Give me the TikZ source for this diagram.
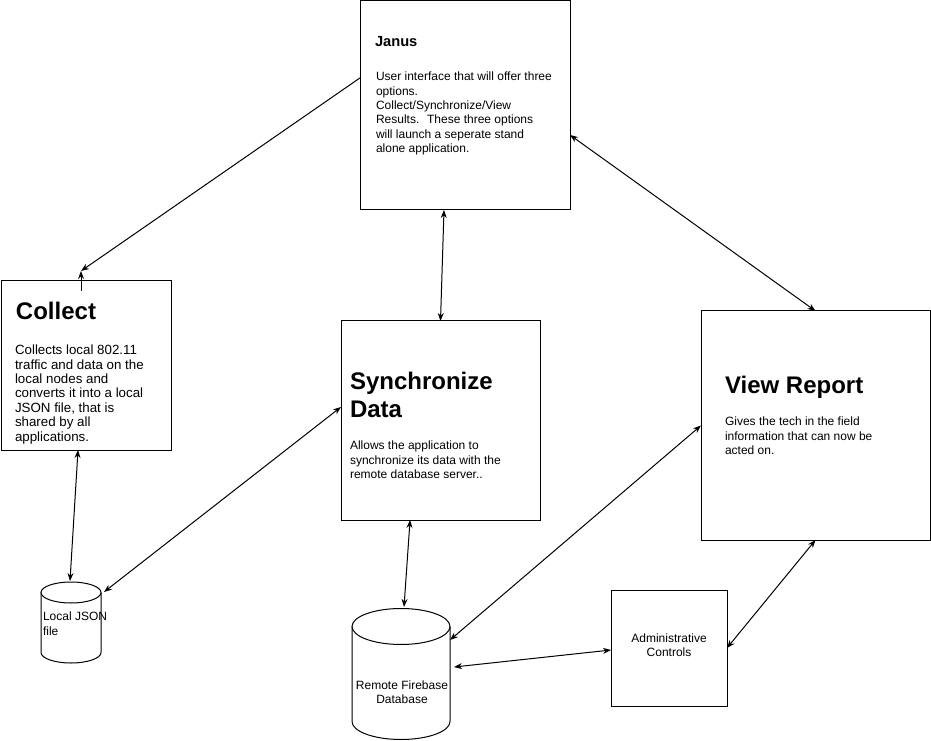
\documentclass[tikz,border=0pt]{standalone}
\usepackage{fontspec}
\setmainfont{Liberation Sans}
\usetikzlibrary{arrows.meta,calc}
\tikzset{
  box/.style={draw, line width=0.75pt, inner sep=0pt, outer sep=0pt},
  body/.style={inner sep=0pt, outer sep=0pt, align=left, font=\fontsize{9}{10.8}\selectfont},
  bodyc/.style={inner sep=0pt, outer sep=0pt, align=center, font=\fontsize{9}{10.8}\selectfont},
  bigtitle/.style={inner sep=0pt, outer sep=0pt, align=left, font=\fontsize{18}{21.3}\selectfont\bfseries},
  conn/.style={line width=0.75pt, {Stealth[length=6pt,width=4.5pt]}-{Stealth[length=6pt,width=4.5pt]}},
  conn1/.style={line width=0.75pt, -{Stealth[length=6pt,width=4.5pt]}},
  hold/.style={inner sep=0pt, outer sep=0pt}
}
\begin{document}
\begin{tikzpicture}[x=0.75pt,y=-0.75pt]
\useasboundingbox (0,0) rectangle (931,741);
\fill[white] (0,0) rectangle (931,741);

% boxes
\node[box, minimum width=157.5pt, minimum height=156.75pt] (janus) at (465,105.5) {};
\node[box, minimum width=127.5pt, minimum height=126.75pt] (collect) at (86,365.5) {};
\node[box, minimum width=149.25pt, minimum height=149.25pt] (sync) at (440.5,420.5) {};
\node[box, minimum width=171.75pt, minimum height=171.75pt] (view) at (815.5,425.5) {};
\node[box, minimum width=87pt, minimum height=87pt] (admin) at (669,648) {};

% cylinders (placeholders for names)
\node[hold, minimum width=45pt, minimum height=60.75pt] (json) at (71,622.5) {};
\node[hold, minimum width=73.5pt, minimum height=99pt] (db) at (401,674) {};

% json cylinder
\draw[line width=0.75pt, fill=white] (41,592.5) -- (41,652.5)
  arc[start angle=180, end angle=360, x radius=22.5pt, y radius=7.875pt] -- (101,592.5);
\draw[line width=0.75pt] (71,592.5) ellipse [x radius=22.5pt, y radius=7.875pt];
% db cylinder
\draw[line width=0.75pt, fill=white] (352,626.5) -- (352,721.5)
  arc[start angle=180, end angle=360, x radius=36.75pt, y radius=13.5pt] -- (450,626.5);
\draw[line width=0.75pt] (401,626.5) ellipse [x radius=36.75pt, y radius=13.5pt];

% texts
\node[inner sep=0pt, outer sep=0pt, anchor=north west, font=\fontsize{11}{13}\selectfont\bfseries] (jt) at (375,36) {Janus};
\node[body, anchor=north west] (jb) at (376,72) {User interface that will offer three\\options.\\Collect/Synchronize/View\\Results.~ These three options\\will launch a seperate stand\\alone application.};

\node[bigtitle, anchor=north west] (ct) at (16,302) {Collect};
\node[inner sep=0pt, outer sep=0pt, align=left, font=\fontsize{10}{10.8}\selectfont, anchor=north west] (cb) at (15,345) {Collects local 802.11\\traffic and data on the\\local nodes and\\converts it into a local\\JSON file, that is\\shared by all\\applications.};

\node[bigtitle, anchor=north west] (st) at (350,372) {Synchronize\\Data};
\node[body, anchor=north west] (sb) at (350,441) {Allows the application to\\synchronize its data with the\\remote database server..};

\node[bigtitle, anchor=north west] (vt) at (725,376) {View Report};
\node[body, anchor=north west] (vb) at (725,417) {Gives the tech in the field\\information that can now be\\acted on.};

\node[bodyc] (at) at (669,645) {Administrative\\Controls};
\node[body, anchor=north west] (jst) at (43,612) {Local JSON\\file};
\node[bodyc] (dbt) at (402,692) {Remote Firebase\\Database};

% connectors
\coordinate (ctip) at ($(collect.north)+(-5,-10)$);
\draw[conn1] ($(janus.north west)!0.368!(janus.south west)$) -- (ctip);
\draw[conn1] ($(collect.north)+(-5,10)$) -- (ctip);
\draw[conn] ($(janus.south west)!0.4!(janus.south east)$) -- (sync.north);
\draw[conn] ($(janus.north east)!0.641!(janus.south east)$) -- (view.north);
\draw[conn] ($(collect.south west)!0.453!(collect.south east)$) -- ($(json.north)+(-1,-1)$);
\draw[conn] ($(sync.north west)!0.432!(sync.south west)$) -- ($(json.north east)+(3,10)$);
\draw[conn] ($(sync.south west)!0.347!(sync.south east)$) -- ($(db.north)+(3,-1)$);
\draw[conn] (view.west) -- ($(db.north east)+(0,32)$);
\draw[conn] ($(admin.west)+(0,2)$) -- ($(db.east)+(4,-7)$);
\draw[conn] (view.south) -- (admin.east);
\end{tikzpicture}
\end{document}
